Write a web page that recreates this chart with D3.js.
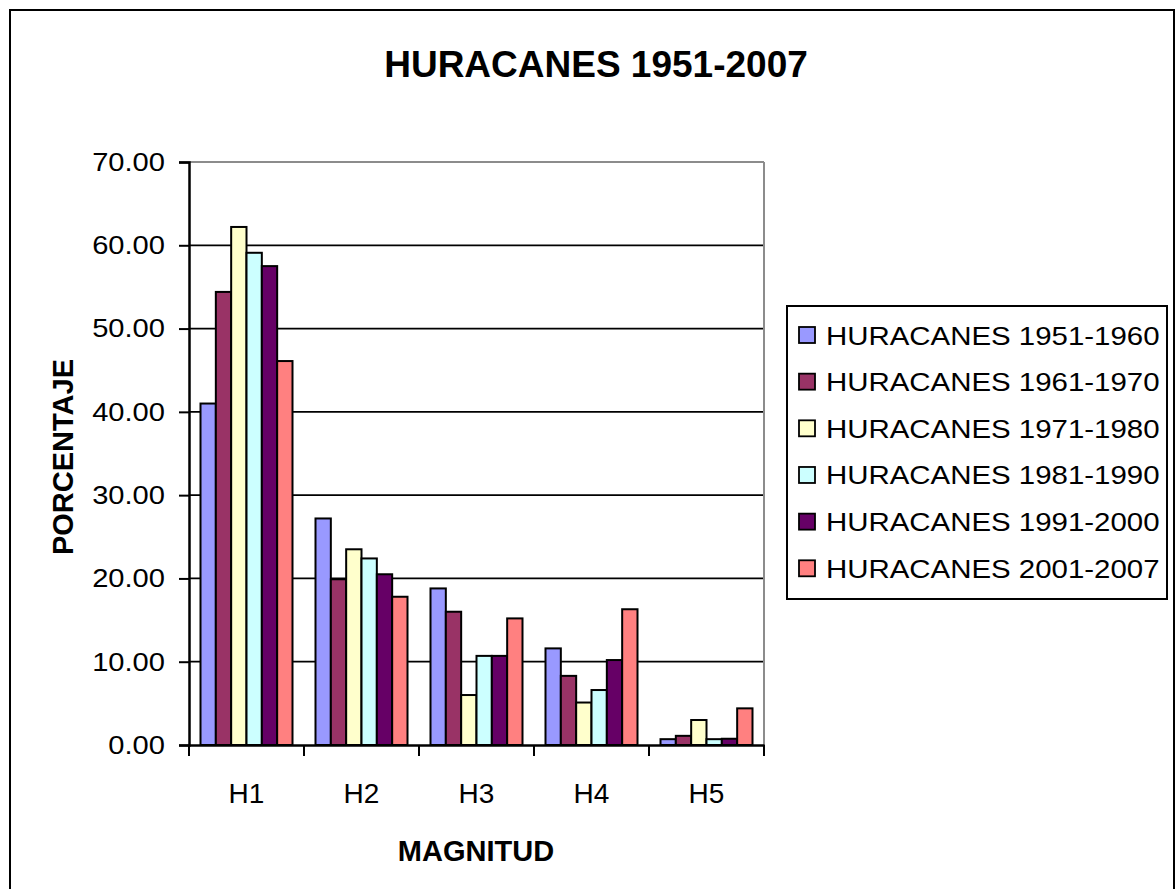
<!DOCTYPE html>
<html>
<head>
<meta charset="utf-8">
<script src="https://cdn.jsdelivr.net/npm/d3@7"></script>
<style>
  html, body { margin: 0; padding: 0; background: #fff; }
  svg { display: block; font-family: "Liberation Sans", Arial, sans-serif; }
</style>
</head>
<body>
<svg id="chart" width="1175" height="889"></svg>
<script>
const categories = ["H1", "H2", "H3", "H4", "H5"];
const seriesNames = [
  "HURACANES 1951-1960",
  "HURACANES 1961-1970",
  "HURACANES 1971-1980",
  "HURACANES 1981-1990",
  "HURACANES 1991-2000",
  "HURACANES 2001-2007"
];
const s1951_1960 = [41.0, 27.2, 18.8, 11.6, 0.7];
const s1961_1970 = [54.4, 19.9, 16.0, 8.3, 1.1];
const s1971_1980 = [62.2, 23.5, 6.0, 5.1, 3.0];
const s1981_1990 = [59.1, 22.4, 10.7, 6.6, 0.7];
const s1991_2000 = [57.5, 20.5, 10.7, 10.2, 0.75];
const s2001_2007 = [46.1, 17.8, 15.2, 16.3, 4.4];
const seriesValues = [s1951_1960, s1961_1970, s1971_1980, s1981_1990, s1991_2000, s2001_2007];
const seriesColors = ["#9999FF", "#993366", "#FFFFCC", "#CCFFFF", "#660066", "#FF8080"];
const yTicks = [0, 10, 20, 30, 40, 50, 60, 70];

const svg = d3.select("#chart");

// outer frame
svg.append("rect").attr("x", 10).attr("y", 10).attr("width", 1164).attr("height", 900)
  .attr("fill", "#fff").attr("stroke", "#000").attr("stroke-width", 2);

const plot = { left: 189, right: 764, top: 162, bottom: 745 };

const x = d3.scaleBand().domain(categories).range([plot.left, plot.right]).padding(0);
const x1 = d3.scaleBand().domain(d3.range(seriesNames.length)).range([0, x.bandwidth()])
  .paddingInner(0).paddingOuter(0.75);
const y = d3.scaleLinear().domain([0, 70]).range([plot.bottom, plot.top]);

function stretch(sel, factor) {
  sel.each(function () {
    const len = this.getComputedTextLength();
    d3.select(this).attr("textLength", len * factor).attr("lengthAdjust", "spacingAndGlyphs");
  });
}

// gridlines
svg.append("g").selectAll("line").data(yTicks.filter(t => t > 0 && t < 70)).join("line")
  .attr("x1", plot.left).attr("x2", plot.right)
  .attr("y1", d => y(d)).attr("y2", d => y(d))
  .attr("stroke", "#000").attr("stroke-width", 1.8);

// plot border top / right (gray)
svg.append("line").attr("x1", plot.left).attr("x2", plot.right).attr("y1", y(70)).attr("y2", y(70))
  .attr("stroke", "#8c8c8c").attr("stroke-width", 2);
svg.append("line").attr("x1", plot.right).attr("x2", plot.right).attr("y1", y(70)).attr("y2", plot.bottom)
  .attr("stroke", "#8c8c8c").attr("stroke-width", 2);

// bars
const groups = svg.append("g").selectAll("g").data(seriesValues).join("g")
  .attr("fill", (d, i) => seriesColors[i]);
groups.each(function (vals, si) {
  d3.select(this).selectAll("rect").data(vals).join("rect")
    .attr("x", (d, ci) => x(categories[ci]) + x1(si))
    .attr("y", d => y(d))
    .attr("width", x1.bandwidth())
    .attr("height", d => y(0) - y(d))
    .attr("stroke", "#000").attr("stroke-width", 2);
});

// y axis
const yAxis = d3.axisLeft(y).tickValues(yTicks).tickSize(10).tickPadding(14)
  .tickFormat(d3.format(".2f"));
const gy = svg.append("g").attr("transform", `translate(${plot.left},0)`).call(yAxis);
gy.select(".domain").attr("stroke", "#000").attr("stroke-width", 2.5);
gy.selectAll(".tick line").attr("stroke", "#000").attr("stroke-width", 2);
gy.selectAll(".tick text").attr("font-size", 26).attr("fill", "#000")
  .attr("font-family", "Liberation Sans, Arial, sans-serif");
stretch(gy.selectAll(".tick text"), 1.12);

// x axis
const xAxis = d3.axisBottom(x).tickSize(0).tickPadding(0);
const gx = svg.append("g").attr("transform", `translate(0,${plot.bottom})`).call(xAxis);
gx.select(".domain").attr("stroke", "#000").attr("stroke-width", 2.5);
gx.selectAll(".tick text").attr("font-size", 28).attr("fill", "#000")
  .attr("font-family", "Liberation Sans, Arial, sans-serif")
  .attr("dy", null).attr("y", 58);
// category boundary ticks
const boundaries = categories.map(c => x(c)).concat([x(categories[categories.length - 1]) + x.bandwidth()]);
gx.append("g").selectAll("line").data(boundaries).join("line")
  .attr("x1", d => d).attr("x2", d => d).attr("y1", 0).attr("y2", 11)
  .attr("stroke", "#000").attr("stroke-width", 2);

// title
svg.append("text").attr("x", 596).attr("y", 77).attr("text-anchor", "middle")
  .attr("font-size", 37).attr("font-weight", "bold").text("HURACANES 1951-2007");

// axis titles
svg.append("text").attr("x", 476).attr("y", 861).attr("text-anchor", "middle")
  .attr("font-size", 29).attr("font-weight", "bold").text("MAGNITUD");
svg.append("text").attr("transform", "translate(73,457) rotate(-90)").attr("text-anchor", "middle")
  .attr("font-size", 29).attr("font-weight", "bold").text("PORCENTAJE");

// legend
const legend = svg.append("g");
legend.append("rect").attr("x", 787).attr("y", 306).attr("width", 380).attr("height", 293)
  .attr("fill", "#fff").attr("stroke", "#000").attr("stroke-width", 2);
const rowY = d3.scalePoint().domain(d3.range(seriesNames.length)).range([335, 568.3]);
const items = legend.selectAll("g.item").data(seriesNames).join("g").attr("class", "item")
  .attr("transform", (d, i) => `translate(0,${rowY(i)})`);
items.append("rect").attr("x", 799).attr("y", -8).attr("width", 16).attr("height", 16)
  .attr("fill", (d, i) => seriesColors[i]).attr("stroke", "#000").attr("stroke-width", 1.8);
const ltext = items.append("text").attr("x", 826).attr("y", 9.5).attr("font-size", 26.5)
  .text(d => d);
stretch(ltext, 1.11);
</script>
</body>
</html>
